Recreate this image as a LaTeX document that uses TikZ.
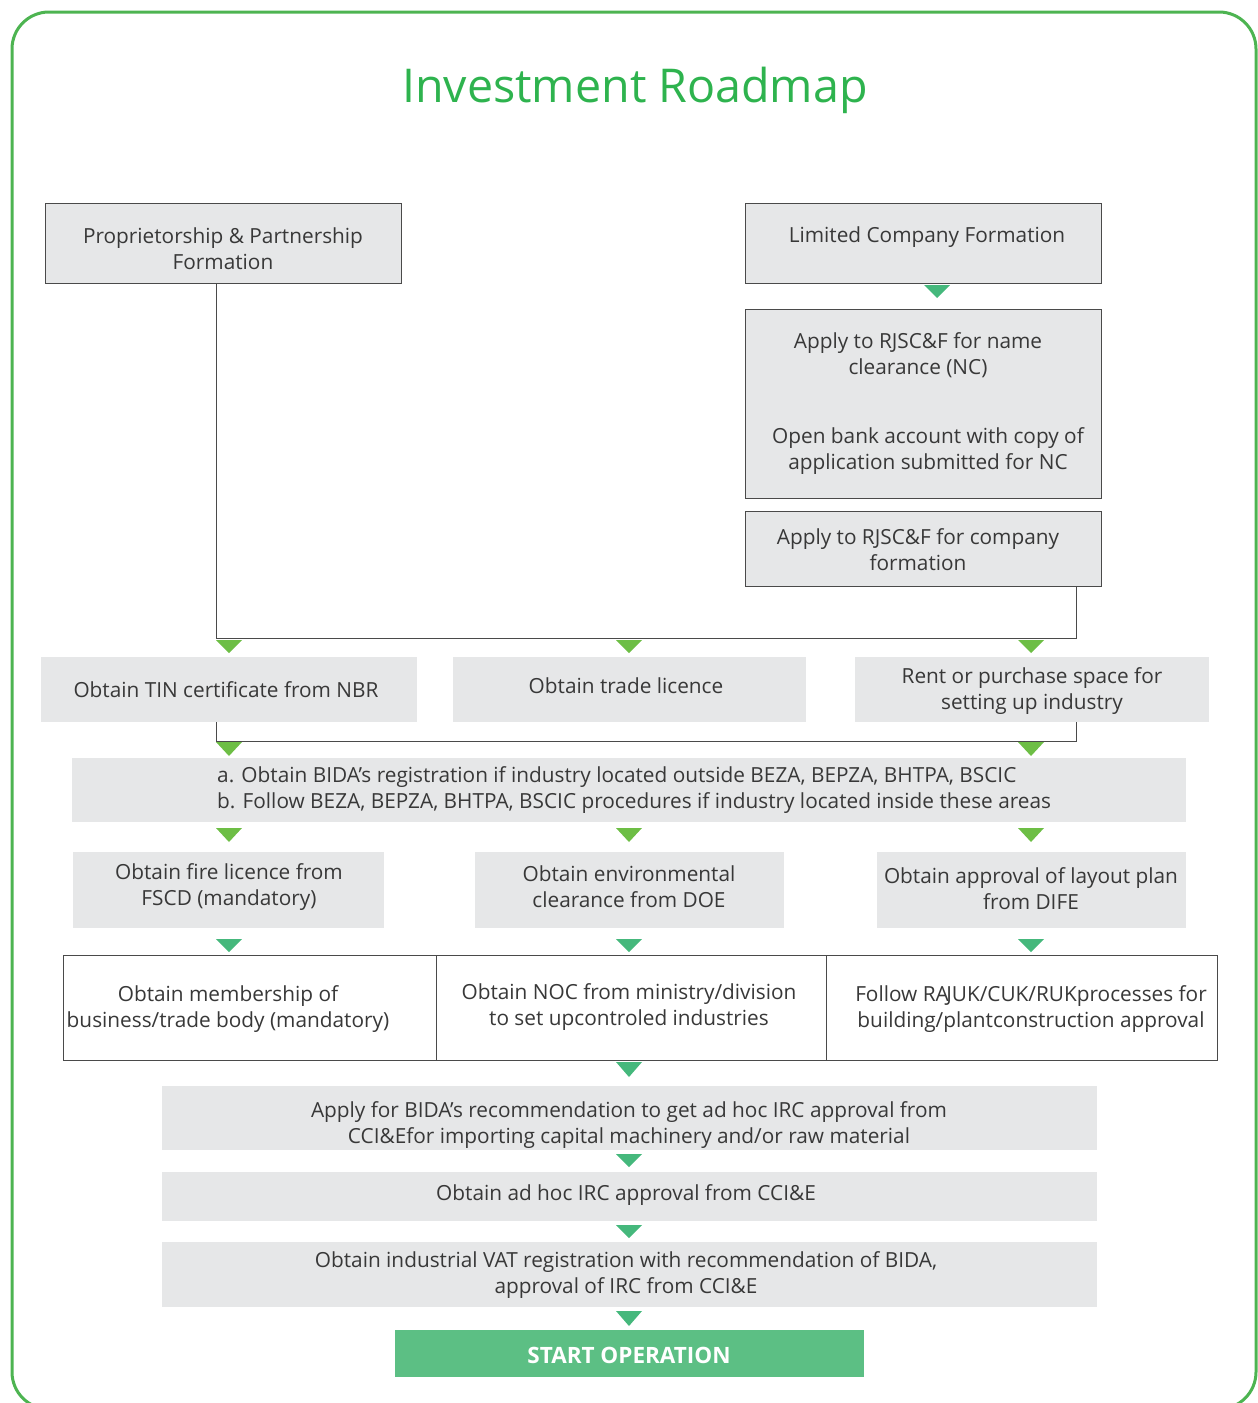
\documentclass[tikz,border=0pt]{standalone}
\usepackage{fontspec}
\setmainfont{Open Sans}
\definecolor{boxgray}{HTML}{E6E7E8}
\definecolor{linegray}{HTML}{4A4A4A}
\definecolor{framegreen}{HTML}{4DB451}
\definecolor{titlegreen}{HTML}{2EB34E}
\definecolor{trilime}{HTML}{6DBE45}
\definecolor{triteal}{HTML}{45B87C}
\definecolor{startgreen}{HTML}{5CBF84}
\definecolor{txt}{HTML}{383838}
\newcommand{\mytri}[4]{\fill[#4] (#1-13,#2) -- (#1+13,#2) -- (#1,#3) -- cycle;}
\tikzset{
  framed/.style={draw=linegray, line width=1pt, fill=boxgray, inner sep=0pt},
  plain/.style={fill=boxgray, inner sep=0pt},
  cell/.style={draw=linegray, line width=1pt, fill=white, inner sep=0pt},
  lbl/.style={text=txt, font=\fontsize{20.8}{26}\selectfont, align=center, inner sep=0pt},
  conn/.style={draw=linegray, line width=1pt},
}
\begin{document}
\begin{tikzpicture}[x=1pt,y=-1pt]
\useasboundingbox (0,0) rectangle (1258,1403);
% frame
\draw[framegreen, line width=3pt, rounded corners=37pt] (12,12) rectangle (1256,1409);
% title
\node[text=titlegreen, font=\fontsize{46.6}{50}\selectfont, inner sep=0pt] (title) at (635,90) {Investment Roadmap};

% top boxes
\node[framed, minimum width=356, minimum height=80] (prop) at (223,243) {};
\node[lbl] (propt) at (223,249) {Proprietorship \& Partnership\\Formation};
\node[framed, minimum width=356, minimum height=80] (ltd) at (923,243) {};
\node[lbl] (ltdt) at (927,237) {Limited Company Formation};
\mytri{937}{285}{298}{triteal}
\node[framed, minimum width=356, minimum height=189] (nc) at (923,403.5) {};
\node[lbl] (nct1) at (918,355) {Apply to RJSC\&F for name\\clearance (NC)};
\node[lbl] (nct2) at (928,451) {Open bank account with copy of\\application submitted for NC};
\node[framed, minimum width=356, minimum height=75] (cf) at (923,548.5) {};
\node[lbl] (cft) at (918,550) {Apply to RJSC\&F for company\\formation};

% connector 1
\coordinate (c1a) at (216,638);
\coordinate (c1b) at (1076,638);
\draw[conn] ([xshift=-7pt]prop.south) -- (c1a) -- (c1b) -- ([xshift=153pt]cf.south);
\mytri{229}{640}{653}{trilime}
\mytri{629}{640}{653}{trilime}
\mytri{1031}{640}{653}{trilime}

% row 1
\node[plain, minimum width=376, minimum height=65] (tin) at (229,689.5) {};
\node[lbl] (tint) at (226,690) {Obtain TIN certificate from NBR};
\node[plain, minimum width=353, minimum height=65] (trade) at (629.5,689.5) {};
\node[lbl] (tradet) at (626,686) {Obtain trade licence};
\node[plain, minimum width=354, minimum height=65] (rent) at (1032,689.5) {};
\node[lbl] (rentt) at (1032,691) {Rent or purchase space for\\setting up industry};

% connector 2
\coordinate (c2a) at (216,741);
\coordinate (c2b) at (1076,741);
\draw[conn] ([xshift=-13pt]tin.south) -- (c2a) -- (c2b) -- ([xshift=44pt]rent.south);
\mytri{229}{742}{756}{trilime}
\mytri{1031}{742}{756}{trilime}

% wide box
\node[plain, minimum width=1114, minimum height=64] (bida) at (629,790) {};
\node[lbl, align=left, anchor=west] (bidat) at (217,790) {a. Obtain BIDA’s registration if industry located outside BEZA, BEPZA, BHTPA, BSCIC\\b. Follow BEZA, BEPZA, BHTPA, BSCIC procedures if industry located inside these areas};
\mytri{229}{828}{842}{trilime}
\mytri{629}{828}{842}{trilime}
\mytri{1031}{828}{842}{trilime}

% row 3
\node[plain, minimum width=311, minimum height=76] (fire) at (228.5,890) {};
\node[lbl] (firet) at (229,887) {Obtain fire licence from\\FSCD (mandatory)};
\node[plain, minimum width=309, minimum height=76] (env) at (629.5,890) {};
\node[lbl] (envt) at (629,887) {Obtain environmental\\clearance from DOE};
\node[plain, minimum width=309, minimum height=76] (dife) at (1031.5,890) {};
\node[lbl] (difet) at (1031,889) {Obtain approval of layout plan\\from DIFE};
\mytri{229}{939}{952}{triteal}
\mytri{629}{939}{952}{triteal}
\mytri{1031}{939}{952}{triteal}

% table
\node[cell, minimum width=373, minimum height=105] (mem) at (249.5,1007.5) {};
\node[lbl] (memt) at (228,1009) {Obtain membership of\\business/trade body (mandatory)};
\node[cell, minimum width=390, minimum height=105] (noc) at (631,1007.5) {};
\node[lbl] (noct) at (629,1007) {Obtain NOC from ministry/division\\to set upcontroled industries};
\node[cell, minimum width=391, minimum height=105] (raj) at (1021.5,1007.5) {};
\node[lbl] (rajt) at (1031,1009) {Follow RA\kern-2.5pt JUK/CUK/RUKprocesses for\\building/plantconstruction approval};
\mytri{629}{1062}{1077}{triteal}

% bottom chain
\node[plain, minimum width=935, minimum height=64] (rec) at (629.5,1118) {};
\node[lbl] (rect) at (629,1125) {Apply for BIDA’s recommendation to get ad hoc IRC approval from\\CCI\&Efor importing capital machinery and/or raw material};
\mytri{629}{1154}{1167}{triteal}
\node[plain, minimum width=935, minimum height=49] (irc) at (629.5,1196.5) {};
\node[lbl] (irct) at (626,1195) {Obtain ad hoc IRC approval from CCI\&E};
\mytri{629}{1225}{1238}{triteal}
\node[plain, minimum width=935, minimum height=65] (vat) at (629.5,1274.5) {};
\node[lbl] (vatt) at (626,1275) {Obtain industrial VAT registration with recommendation of BIDA,\\approval of IRC from CCI\&E};
\mytri{629}{1311}{1326}{triteal}
\node[fill=startgreen, minimum width=469, minimum height=47, inner sep=0pt] (start) at (629.5,1353.5) {};
\node[text=white, font=\fontsize{22.5}{24}\selectfont\bfseries, inner sep=0pt] (startt) at (629,1355) {START OPERATION};
\end{tikzpicture}
\end{document}
